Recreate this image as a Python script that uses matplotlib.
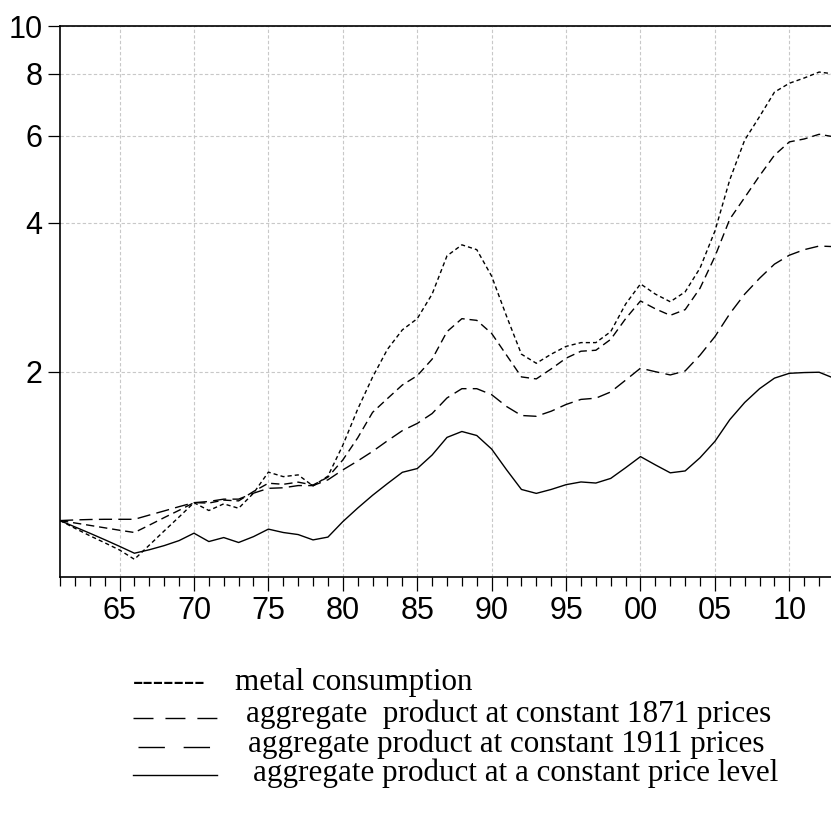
import numpy as np
import matplotlib
matplotlib.use("Agg")
import matplotlib.pyplot as plt
from matplotlib.lines import Line2D
from matplotlib.ticker import FixedLocator, NullLocator

# data (index, 1961 = 1)
years = list(range(1961, 2014))

metal = [1.0, 0.965, 0.932, 0.902, 0.872, 0.835, 0.892, 0.953, 1.017, 1.087,
         1.048, 1.081, 1.059, 1.136, 1.253, 1.227, 1.237, 1.175, 1.23, 1.42,
         1.68, 1.95, 2.22, 2.43, 2.56, 2.87, 3.43, 3.61, 3.53, 3.12,
         2.59, 2.17, 2.08, 2.17, 2.25, 2.29, 2.29, 2.41, 2.74, 3.01,
         2.87, 2.77, 2.90, 3.24, 3.85, 4.89, 5.88, 6.56, 7.35, 7.66,
         7.85, 8.07, 8.0]

agg_1871 = [1.0, 0.989, 0.978, 0.967, 0.956, 0.946, 0.979, 1.014, 1.049, 1.087,
            1.085, 1.10, 1.096, 1.145, 1.19, 1.184, 1.196, 1.18, 1.224, 1.326,
            1.47, 1.655, 1.765, 1.88, 1.963, 2.12, 2.41, 2.56, 2.54, 2.39,
            2.16, 1.952, 1.934, 2.026, 2.13, 2.20, 2.21, 2.325, 2.56, 2.78,
            2.68, 2.60, 2.67, 2.95, 3.42, 4.07, 4.5, 4.98, 5.48, 5.83,
            5.91, 6.04, 5.97]

agg_1911 = [1.0, 1.003, 1.005, 1.006, 1.006, 1.006, 1.026, 1.046, 1.067, 1.087,
            1.093, 1.105, 1.105, 1.136, 1.162, 1.165, 1.177, 1.177, 1.209, 1.266,
            1.32, 1.38, 1.45, 1.52, 1.572, 1.646, 1.77, 1.848, 1.848, 1.797,
            1.701, 1.631, 1.625, 1.664, 1.717, 1.758, 1.768, 1.82, 1.923, 2.033,
            2.0, 1.97, 2.007, 2.16, 2.355, 2.62, 2.87, 3.09, 3.30, 3.44,
            3.53, 3.59, 3.58]

agg_const = [1.0, 0.971, 0.943, 0.915, 0.887, 0.859, 0.873, 0.89, 0.911, 0.943,
             0.907, 0.924, 0.903, 0.928, 0.961, 0.946, 0.937, 0.914, 0.926, 0.995,
             1.06, 1.125, 1.188, 1.252, 1.274, 1.357, 1.473, 1.514, 1.486, 1.395,
             1.267, 1.156, 1.135, 1.156, 1.182, 1.197, 1.191, 1.217, 1.279, 1.347,
             1.296, 1.249, 1.26, 1.34, 1.446, 1.6, 1.733, 1.848, 1.941, 1.985,
             1.992, 1.995, 1.94]

xticks = [1965, 1970, 1975, 1980, 1985, 1990, 1995, 2000, 2005, 2010]
xlabels = ["65", "70", "75", "80", "85", "90", "95", "00", "05", "10"]
yticks = [2, 4, 6, 8, 10]

legend_labels = ["metal consumption",
                 "aggregate  product at constant 1871 prices",
                 "aggregate product at constant 1911 prices",
                 "aggregate product at a constant price level"]

W, H = 831, 815
fig = plt.figure(figsize=(W / 100, H / 100), dpi=100)
ax = fig.add_axes([60 / W, 1 - 577 / H, (834 - 60) / W, (577 - 26) / H])

ax.plot(years, metal, color="black", lw=1.0, dashes=(3.0, 2.2))
ax.plot(years, agg_1871, color="black", lw=1.0, dashes=(6.0, 3.5))
ax.plot(years, agg_1911, color="black", lw=1.0, dashes=(9.5, 4.5))
ax.plot(years, agg_const, color="black", lw=1.0)

ax.set_yscale("log")
ax.set_ylim(0.769, 10)
ax.set_xlim(1961, 2013)

ax.yaxis.set_major_locator(FixedLocator(yticks))
ax.yaxis.set_minor_locator(NullLocator())
ax.set_yticklabels([str(v) for v in yticks])
ax.xaxis.set_major_locator(FixedLocator(xticks))
ax.xaxis.set_minor_locator(FixedLocator(years))
ax.set_xticklabels(xlabels)

for lab in ax.get_xticklabels() + ax.get_yticklabels():
    lab.set_fontfamily("Liberation Sans")
    lab.set_fontsize(22)

ax.tick_params(axis="x", which="major", direction="out", length=10, width=0.9, pad=3.5)
ax.tick_params(axis="x", which="minor", direction="out", length=6.5, width=0.9)
ax.tick_params(axis="y", which="major", direction="out", length=8.6, width=0.9, pad=4)

ax.grid(True, which="major", color="#c8c8c8", linestyle=(0, (3, 2)), lw=0.8)
ax.spines["right"].set_visible(False)
for s in ["left", "bottom", "top"]:
    ax.spines[s].set_linewidth(1.2)

# legend below the plot
fs = 22.4
fig.text(133 / W, 1 - 690 / H, "-------", family="Liberation Serif", fontsize=fs,
         va="baseline", ha="left")
fig.text(235 / W, 1 - 690 / H, legend_labels[0], family="Liberation Serif",
         fontsize=fs, va="baseline", ha="left")
fig.add_artist(Line2D([133 / W, 217 / W], [1 - 718 / H] * 2, color="black", lw=1.0,
                      dashes=(14.4, 8.6), transform=fig.transFigure))
fig.text(246 / W, 1 - 722 / H, legend_labels[1], family="Liberation Serif",
         fontsize=fs, va="baseline", ha="left")
fig.add_artist(Line2D([138 / W, 210 / W], [1 - 747 / H] * 2, color="black", lw=1.0,
                      dashes=(19, 13.5), transform=fig.transFigure))
fig.text(248 / W, 1 - 752 / H, legend_labels[2], family="Liberation Serif",
         fontsize=fs, va="baseline", ha="left")
fig.add_artist(Line2D([133 / W, 217 / W], [1 - 775 / H] * 2, color="black", lw=1.0,
                      transform=fig.transFigure))
fig.text(253 / W, 1 - 781 / H, legend_labels[3], family="Liberation Serif",
         fontsize=fs, va="baseline", ha="left")

fig.savefig("out.png", dpi=100)
